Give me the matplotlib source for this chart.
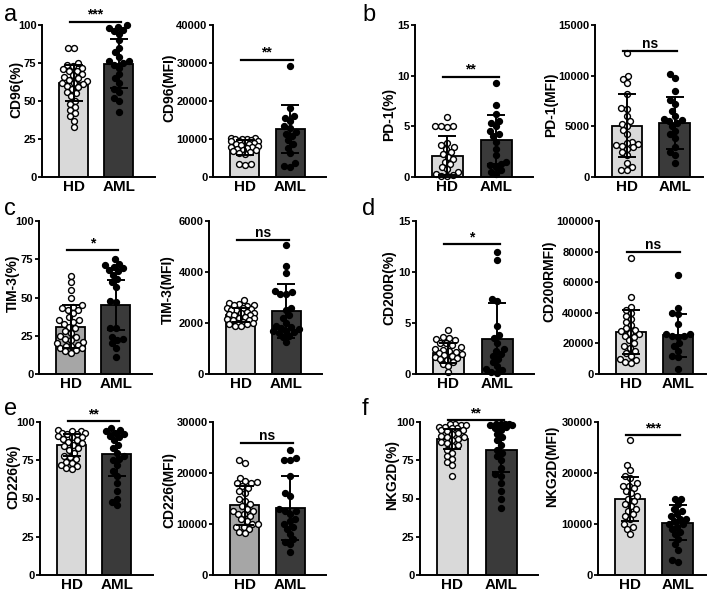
"""
HD vs AML bar/scatter panels (a-f).
"""
import numpy as np
import matplotlib.pyplot as plt

plt.rcParams['font.family'] = ['Liberation Sans', 'DejaVu Sans']
plt.rcParams['font.weight'] = 'bold'
plt.rcParams['axes.labelweight'] = 'bold'

groups = ['HD', 'AML']

# a: CD96
cd96_pct_hd = [85, 85, 75, 74, 73, 72, 71, 70, 70, 68, 67, 66, 65, 64, 63, 62, 62, 61,
               60, 59, 58, 56, 55, 53, 50, 48, 46, 44, 42, 40, 37, 33]
cd96_pct_aml = [100, 99, 98, 97, 96, 94, 90, 85, 82, 79, 76, 76, 75, 74, 72, 68, 65, 62,
                58, 56, 52, 50, 43]
cd96_pct_mean = [62, 74.5]
cd96_pct_sd = [12, 16]

cd96_mfi_hd = [10300, 10200, 10100, 10000, 9900, 9800, 9600, 9500, 9400, 9200, 9000, 8800,
               8600, 8400, 8200, 8000, 7800, 7600, 7400, 7200, 7000, 6800, 6600, 6300, 6000,
               3400, 3300, 3200]
cd96_mfi_aml = [29200, 18100, 16100, 15500, 14800, 13450, 13000, 11950, 11240, 10800, 9650,
                8600, 7700, 6300, 3700, 2800, 2600]
cd96_mfi_mean = [7800, 12600]
cd96_mfi_sd = [2000, 6300]

# b: PD-1
pd1_pct_hd = [5.9, 5.0, 5.0, 4.9, 5.0, 3.4, 3.2, 3.0, 2.8, 2.5, 2.3, 2.0, 1.8, 1.5, 1.3,
              1.0, 0.8, 0.5, 0.3, 0.2, 0.1, 0.1]
pd1_pct_aml = [9.3, 7.1, 6.2, 5.5, 5.3, 5.0, 4.5, 4.2, 4.0, 3.5, 2.8, 2.2, 1.5, 1.3, 1.2,
               1.0, 0.7, 0.5, 0.3]
pd1_pct_mean = [2.1, 3.7]
pd1_pct_sd = [1.9, 2.45]

pd1_mfi_hd = [12200, 10000, 9700, 9300, 8200, 6800, 6700, 6000, 5500, 5200, 5000, 4600,
              4200, 3500, 3400, 3300, 3200, 3100, 3000, 2800, 2500, 2200, 1400, 1000, 700, 700]
pd1_mfi_aml = [10200, 9800, 8500, 7600, 7200, 6500, 6000, 5700, 5600, 5500, 5300, 5000,
               4500, 4200, 3800, 3000, 2500, 2200, 1400]
pd1_mfi_mean = [5050, 5320]
pd1_mfi_sd = [3100, 2600]

# c: TIM-3
tim3_pct_hd = [64, 60, 55, 50, 45, 44, 43, 42, 42, 40, 37, 35, 35, 34, 33, 31, 30, 28, 27,
               25, 24, 23, 22, 21, 20, 19, 18, 18, 17, 17, 16, 15, 14]
tim3_pct_aml = [75, 72, 71, 70, 69, 68, 67, 65, 62, 60, 57, 48, 47, 30, 30, 24, 23, 22, 20,
                17, 11]
tim3_pct_mean = [31, 45]
tim3_pct_sd = [14, 16.5]

tim3_mfi_hd = [2900, 2800, 2750, 2700, 2700, 2650, 2600, 2600, 2550, 2500, 2500, 2450, 2400,
               2400, 2350, 2300, 2300, 2250, 2200, 2200, 2150, 2100, 2100, 2050, 2000, 2000,
               1950, 1950, 1900, 1900]
tim3_mfi_aml = [5050, 4250, 3950, 3250, 3200, 3150, 3150, 2600, 2500, 2300, 2200, 2000, 1900,
                1850, 1800, 1750, 1700, 1700, 1650, 1600, 1500, 1450, 1250]
tim3_mfi_mean = [2310, 2465]
tim3_mfi_sd = [280, 1050]

# d: CD200R
cd200r_pct_hd = [4.3, 3.6, 3.5, 3.4, 3.3, 3.0, 3.0, 2.8, 2.6, 2.5, 2.4, 2.3, 2.2, 2.1, 2.0,
                 1.9, 1.8, 1.7, 1.6, 1.5, 1.4, 1.2, 1.0, 0.8, 0.2]
cd200r_pct_aml = [12.0, 11.2, 7.4, 7.2, 4.7, 3.8, 3.5, 3.0, 2.5, 2.3, 2.0, 1.8, 1.5, 1.2,
                  0.8, 0.5, 0.4, 0.2, 0.1]
cd200r_pct_mean = [2.05, 3.45]
cd200r_pct_sd = [0.95, 3.5]

cd200r_mfi_hd = [76000, 50000, 44000, 42000, 40000, 38000, 36000, 34000, 32000, 30000, 29000,
                 28000, 27000, 26000, 25000, 24000, 22000, 20000, 18000, 17000, 15000, 14000,
                 12000, 10000, 9000, 8000, 7000]
cd200r_mfi_aml = [65000, 43000, 40000, 39000, 33000, 26000, 26000, 25000, 25000, 24000, 20000,
                  18000, 15000, 12000, 11000, 3000]
cd200r_mfi_mean = [27500, 25300]
cd200r_mfi_sd = [14500, 14000]

# e: CD226
cd226_pct_hd = [95, 94, 94, 93, 93, 92, 92, 91, 90, 90, 89, 88, 87, 86, 85, 84, 83, 82, 80,
                78, 77, 76, 74, 73, 72, 71, 70, 69]
cd226_pct_aml = [96, 95, 94, 93, 92, 91, 90, 88, 85, 83, 80, 78, 76, 75, 72, 68, 65, 60, 55,
                 50, 48, 46]
cd226_pct_mean = [85, 79]
cd226_pct_sd = [7, 14]

cd226_mfi_hd = [22500, 22000, 19000, 18500, 18200, 18000, 18000, 17500, 17000, 16500, 16000,
                15000, 14500, 14000, 13500, 13000, 12500, 12500, 12000, 12000, 11500, 11000,
                10500, 10000, 10000, 9500, 9500, 9000, 8500, 8200]
cd226_mfi_aml = [24500, 23000, 22500, 22500, 19500, 16000, 15500, 13000, 12500, 12500, 12000,
                 11000, 10500, 10000, 9500, 9000, 8000, 7000, 6500, 6000, 4500]
cd226_mfi_mean = [13700, 13150]
cd226_mfi_sd = [3800, 6200]

# f: NKG2D
nkg2d_pct_hd = [99, 99, 98, 98, 97, 97, 96, 96, 95, 95, 94, 93, 92, 91, 90, 90, 89, 88, 87,
                86, 85, 84, 82, 80, 78, 76, 74, 72, 65]
nkg2d_pct_aml = [99, 99, 99, 99, 98, 98, 97, 96, 95, 92, 90, 88, 85, 82, 80, 78, 75, 70, 66,
                 65, 60, 55, 50, 44]
nkg2d_pct_mean = [89, 82]
nkg2d_pct_sd = [6.5, 15]

nkg2d_mfi_hd = [26500, 21500, 20500, 19500, 19000, 18000, 17500, 17500, 17000, 16500, 16000,
                15500, 15000, 14500, 14000, 13500, 13000, 12500, 12000, 11500, 11000, 10000,
                9500, 9000, 8000]
nkg2d_mfi_aml = [15000, 15000, 14000, 13000, 12500, 12000, 11500, 11000, 11000, 10500, 10000,
                 10000, 9500, 9000, 8500, 8000, 7000, 6000, 5000, 3000, 2500]
nkg2d_mfi_mean = [14870, 10260]
nkg2d_mfi_sd = [4300, 3400]

W, H = 708, 592
LIGHT, MID, DARK = '#d9d9d9', '#a6a6a6', '#3a3a3a'

# layout in pixels: axis x0 per row/col, widths per col, row top/bottom
x0s = [[42, 213, 415, 595], [39, 209, 416, 599], [40, 213, 420, 598]]
widths = [113, 113, 118, 108]
xlims = [(-0.7, 1.8), (-0.7, 1.78), (-0.66, 1.75), (-0.68, 1.6)]
rows = [(25, 177), (221, 374), (422, 575)]
# y-label centres (px) per row/col
label_xy = [[(16, 89), (169, 88), (389, 114), (551, 105)],
            [(13, 283), (168, 290), (389, 288), (549, 281)],
            [(13, 477), (169, 490), (392, 475), (552, 466)]]


def swarm(vals, ppu_y, diam=5.8, half=13.5):
    """Beeswarm x offsets in pixels."""
    vals = np.asarray(vals, float)
    xs = np.zeros(len(vals))
    placed = []
    cands = sorted(np.arange(-half, half + 0.01, 0.5), key=lambda c: (abs(c), c))
    for i in np.argsort(vals):
        y = vals[i] * ppu_y
        best, best_d = 0.0, -1
        for c in cands:
            d = min([np.hypot(c - px, y - py) for px, py in placed] + [99])
            if d >= diam:
                best = c
                break
            if d > best_d:
                best, best_d = c, d
        placed.append((best, y))
        xs[i] = best
    return xs


def panel(r, c, hd, aml, means, sds, ytop, yticks, ylabel, sig, sig_y, hd_color=LIGHT):
    x0, w = x0s[r][c], min(widths[c], 706 - x0s[r][c])
    top, bot = rows[r]
    xlim = xlims[c]
    ax = fig.add_axes([x0 / W, (H - bot) / H, w / W, (bot - top) / H])
    ax.set_xlim(*xlim)
    ax.set_ylim(0, ytop)
    ppu_x = w / (xlim[1] - xlim[0])
    ppu_y = (bot - top) / ytop
    ax.bar([0, 1], means, width=0.64, color=[hd_color, DARK], edgecolor='black',
           linewidth=1.3, zorder=1)
    for i, (vals, fc) in enumerate([(hd, 'white'), (aml, 'black')]):
        off = swarm(vals, ppu_y) / ppu_x
        ax.scatter(i + off, vals, s=18, facecolor=fc, edgecolor='black',
                   linewidth=1.0, zorder=2, clip_on=False)
    ax.errorbar([0, 1], means, yerr=sds, fmt='none', ecolor='black', elinewidth=1.4,
                capsize=6.5, capthick=1.4, zorder=3)
    ax.plot([-0.08, 1.05], [sig_y, sig_y], color='black', lw=1.6, clip_on=False)
    ax.text(0.48, sig_y, sig, ha='center', va='bottom', fontsize=10, fontweight='bold')
    ax.set_xticks([0, 1])
    ax.set_xticklabels(groups, fontsize=11, fontweight='bold')
    ax.set_yticks(yticks)
    ax.set_yticklabels([str(t) for t in yticks], fontsize=8, fontweight='bold')
    ax.set_ylabel(ylabel, fontsize=10, fontweight='bold')
    lx, ly = label_xy[r][c]
    ax.yaxis.set_label_coords((lx + 7 - x0) / w, (bot - ly) / (bot - top))
    for s in ['top', 'right']:
        ax.spines[s].set_visible(False)
    for s in ['left', 'bottom']:
        ax.spines[s].set_linewidth(1.4)
    ax.tick_params(axis='y', length=3, width=1.3, pad=1)
    ax.tick_params(axis='x', length=0, pad=2)
    return ax


fig = plt.figure(figsize=(W / 100, H / 100), dpi=100)

panel(0, 0, cd96_pct_hd, cd96_pct_aml, cd96_pct_mean, cd96_pct_sd,
      100, [0, 25, 50, 75, 100], 'CD96(%)', '***', 102)
panel(0, 1, cd96_mfi_hd, cd96_mfi_aml, cd96_mfi_mean, cd96_mfi_sd,
      40000, [0, 10000, 20000, 30000, 40000], 'CD96(MFI)', '**', 30800)
panel(0, 2, pd1_pct_hd, pd1_pct_aml, pd1_pct_mean, pd1_pct_sd,
      15, [0, 5, 10, 15], 'PD-1(%)', '**', 9.9)
panel(0, 3, pd1_mfi_hd, pd1_mfi_aml, pd1_mfi_mean, pd1_mfi_sd,
      15000, [0, 5000, 10000, 15000], 'PD-1(MFI)', 'ns', 12450)

panel(1, 0, tim3_pct_hd, tim3_pct_aml, tim3_pct_mean, tim3_pct_sd,
      100, [0, 25, 50, 75, 100], 'TIM-3(%)', '*', 81, hd_color=MID)
panel(1, 1, tim3_mfi_hd, tim3_mfi_aml, tim3_mfi_mean, tim3_mfi_sd,
      6000, [0, 2000, 4000, 6000], 'TIM-3(MFI)', 'ns', 5270)
panel(1, 2, cd200r_pct_hd, cd200r_pct_aml, cd200r_pct_mean, cd200r_pct_sd,
      15, [0, 5, 10, 15], 'CD200R(%)', '*', 12.7)
panel(1, 3, cd200r_mfi_hd, cd200r_mfi_aml, cd200r_mfi_mean, cd200r_mfi_sd,
      100000, [0, 20000, 40000, 60000, 80000, 100000], 'CD200RMFI)', 'ns', 79700)

panel(2, 0, cd226_pct_hd, cd226_pct_aml, cd226_pct_mean, cd226_pct_sd,
      100, [0, 25, 50, 75, 100], 'CD226(%)', '**', 100.6)
panel(2, 1, cd226_mfi_hd, cd226_mfi_aml, cd226_mfi_mean, cd226_mfi_sd,
      30000, [0, 10000, 20000, 30000], 'CD226(MFI)', 'ns', 25900, hd_color=MID)
panel(2, 2, nkg2d_pct_hd, nkg2d_pct_aml, nkg2d_pct_mean, nkg2d_pct_sd,
      100, [0, 25, 50, 75, 100], 'NKG2D(%)', '**', 101)
panel(2, 3, nkg2d_mfi_hd, nkg2d_mfi_aml, nkg2d_mfi_mean, nkg2d_mfi_sd,
      30000, [0, 10000, 20000, 30000], 'NKG2D(MFI)', '***', 27370)

for lab, (x, y) in zip('abcdef', [(4, 4), (362, 4), (4, 198), (362, 198), (4, 398), (362, 398)]):
    fig.text(x / W, 1 - y / H, lab, fontsize=17, fontweight='normal', va='top', ha='left')

fig.savefig('out.png', dpi=100)
